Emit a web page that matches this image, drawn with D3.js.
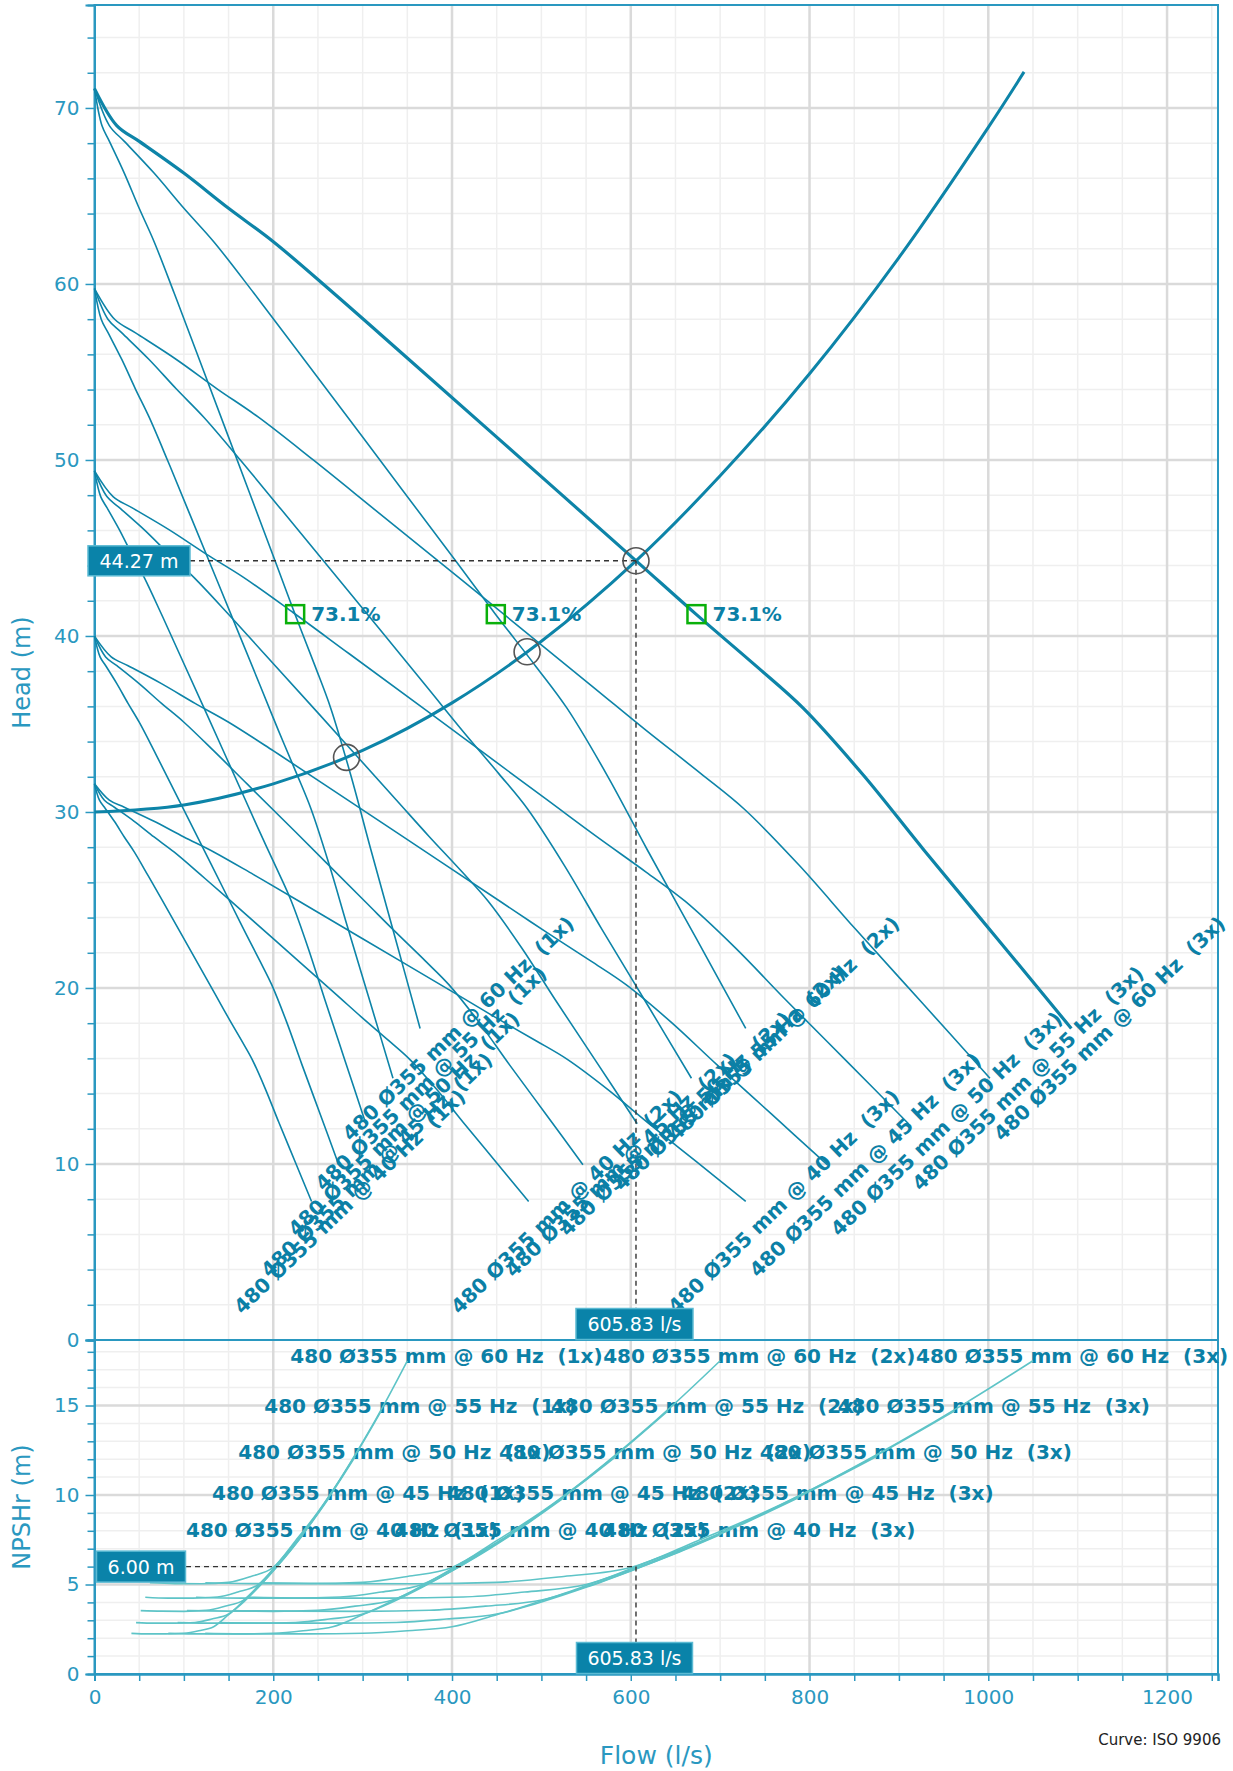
<!DOCTYPE html>
<html><head><meta charset="utf-8">
<script src="https://cdnjs.cloudflare.com/ajax/libs/d3/7.8.5/d3.min.js"></script>
<style>
html,body{margin:0;padding:0;background:#fff;}
svg{display:block;font-family:"DejaVu Sans",Verdana,sans-serif;}
</style></head>
<body><svg id="c" width="1233" height="1771"></svg>
<script>
// ---------- data ----------
const speedsHz = [60, 55, 50, 45, 40];
const pumpCounts = [1, 2, 3];
// single-pump head curves (flow l/s, head m)
const qHead60 = [0, 8.3, 16.7, 33.3, 50, 66.7, 89, 114, 150, 202, 224.3, 246.7, 264.3, 286.7, 309.3, 336.7, 364.3];
const hHead60 = [71.1, 69.0, 68.1, 66.3, 64.3, 62.4, 59.5, 56.15, 51.3, 44.27, 41.24, 38.3, 35.9, 32.1, 27.84, 22.8, 17.7];
const qHead55 = [0, 7.61, 15.31, 30.53, 45.83, 61.14, 81.58, 104.5, 137.5, 185.17, 205.61, 226.14, 242.28, 262.81, 283.53, 308.64, 333.94];
const hHead55 = [59.74, 57.98, 57.22, 55.71, 54.03, 52.43, 50.0, 47.18, 43.11, 37.2, 34.65, 32.18, 30.17, 26.97, 23.39, 19.16, 14.87];
const qHead50 = [0, 6.92, 13.92, 27.75, 41.67, 55.58, 74.17, 95.0, 125.0, 168.33, 186.92, 205.58, 220.25, 238.92, 257.75, 280.58, 303.58];
const hHead50 = [49.38, 47.92, 47.29, 46.04, 44.65, 43.33, 41.32, 38.99, 35.63, 30.74, 28.64, 26.6, 24.93, 22.29, 19.33, 15.83, 12.29];
const qHead45 = [0, 6.23, 12.53, 24.98, 37.5, 50.03, 66.75, 85.5, 112.5, 151.5, 168.23, 185.03, 198.23, 215.03, 231.98, 252.53, 273.23];
const hHead45 = [39.99, 38.81, 38.31, 37.29, 36.17, 35.1, 33.47, 31.58, 28.86, 24.9, 23.2, 21.54, 20.19, 18.06, 15.66, 12.83, 9.96];
const qHead40 = [0, 5.53, 11.13, 22.2, 33.33, 44.47, 59.33, 76.0, 100.0, 134.67, 149.53, 164.47, 176.2, 191.13, 206.2, 224.47, 242.87];
const hHead40 = [31.6, 30.67, 30.27, 29.47, 28.58, 27.73, 26.44, 24.96, 22.8, 19.68, 18.33, 17.02, 15.96, 14.27, 12.37, 10.13, 7.87];
// single-pump NPSHr curves
const qNpsh60 = [62, 90, 120, 150, 175, 200, 225, 250, 275, 300, 325, 350];
const nNpsh60 = [5.10, 5.05, 5.04, 5.12, 5.45, 5.95, 7.45, 9.05, 10.9, 12.95, 15.15, 17.5];
const qNpsh55 = [56.8, 82.5, 110.0, 137.5, 160.4, 183.3, 206.3, 229.2, 252.1, 275.0, 297.9, 320.8];
const nNpsh55 = [4.29, 4.24, 4.24, 4.30, 4.58, 5.00, 6.26, 7.60, 9.16, 10.88, 12.73, 14.70];
const qNpsh50 = [51.7, 75.0, 100.0, 125.0, 145.8, 166.7, 187.5, 208.3, 229.2, 250.0, 270.8, 291.7];
const nNpsh50 = [3.54, 3.51, 3.50, 3.56, 3.79, 4.13, 5.17, 6.29, 7.57, 8.99, 10.52, 12.15];
const qNpsh45 = [46.5, 67.5, 90.0, 112.5, 131.3, 150.0, 168.8, 187.5, 206.3, 225.0, 243.8, 262.5];
const nNpsh45 = [2.87, 2.84, 2.84, 2.88, 3.07, 3.35, 4.19, 5.09, 6.13, 7.28, 8.52, 9.84];
const qNpsh40 = [41.3, 60.0, 80.0, 100.0, 116.7, 133.3, 150.0, 166.7, 183.3, 200.0, 216.7, 233.3];
const nNpsh40 = [2.27, 2.24, 2.24, 2.28, 2.42, 2.64, 3.31, 4.02, 4.84, 5.76, 6.73, 7.78];
// system curve
const sysFlow = [0, 100, 200, 300, 400, 500, 605.83, 700, 800, 900, 1000, 1040];
const sysHead = [30, 30.4, 31.6, 33.5, 36.2, 39.7, 44.27, 49.1, 54.9, 61.5, 68.9, 72.05];
// operating points (system curve x 60 Hz 1x/2x/3x)
const opFlow = [282, 484, 605.83];
const opHead = [33.1, 39.1, 44.27];
// best efficiency points
const bepFlow = [224.5, 449, 673.5];
const bepHead = [41.24, 41.24, 41.24];
const bepText = ["73.1%", "73.1%", "73.1%"];
// duty point read-outs
const dutyFlow = 605.83, dutyHead = 44.27, dutyNpsh = 6.00;
const dutyFlowText = "605.83 l/s", dutyHeadText = "44.27 m", dutyNpshText = "6.00 m";
// axis ticks
const xTicks = [0, 200, 400, 600, 800, 1000, 1200];
const headTicks = [0, 10, 20, 30, 40, 50, 60, 70];
const npshTicks = [0, 5, 10, 15];

const headQ = [qHead60, qHead55, qHead50, qHead45, qHead40];
const headH = [hHead60, hHead55, hHead50, hHead45, hHead40];
const npshQ = [qNpsh60, qNpsh55, qNpsh50, qNpsh45, qNpsh40];
const npshN = [nNpsh60, nNpsh55, nNpsh50, nNpsh45, nNpsh40];

// ---------- layout ----------
const L = 94.5, R = 1218, TOP = 5, MID = 1340, BOT = 1674;
const x = d3.scaleLinear().domain([0, 1257]).range([L, R]);
const yH = d3.scaleLinear().domain([0, 75.85]).range([MID, TOP]);
const yN = d3.scaleLinear().domain([0, 18.66]).range([BOT, MID]);

const C_CURVE = "#0d84a8", C_LABEL = "#0b80a6", C_AXIS = "#2a98c0", C_NPSH = "#5ec4c7";
const svg = d3.select("#c");

// grids
const g = svg.append("g");
function vgrid(y0, y1) {
  g.selectAll(null).data(d3.range(50, 1257, 50).filter(v => v % 200 !== 0)).enter().append("line")
    .attr("x1", d => x(d)).attr("x2", d => x(d)).attr("y1", y0).attr("y2", y1)
    .attr("stroke", "#efefef").attr("stroke-width", 1.5);
}
vgrid(TOP, MID); vgrid(MID, BOT);
g.selectAll(null).data(d3.range(2, 75.85, 2).filter(v => v % 10 !== 0)).enter().append("line")
  .attr("x1", L).attr("x2", R).attr("y1", d => yH(d)).attr("y2", d => yH(d))
  .attr("stroke", "#efefef").attr("stroke-width", 1.5);
g.selectAll(null).data(d3.range(1, 18.66, 1).filter(v => v % 5 !== 0)).enter().append("line")
  .attr("x1", L).attr("x2", R).attr("y1", d => yN(d)).attr("y2", d => yN(d))
  .attr("stroke", "#efefef").attr("stroke-width", 1.5);
[[TOP, MID], [MID, BOT]].forEach(([a, b]) => {
  g.selectAll(null).data(xTicks.filter(d => d > 0)).enter().append("line")
    .attr("x1", d => x(d)).attr("x2", d => x(d)).attr("y1", a).attr("y2", b)
    .attr("stroke", "#dadada").attr("stroke-width", 2.5);
});
g.selectAll(null).data(headTicks.filter(d => d > 0)).enter().append("line")
  .attr("x1", L).attr("x2", R).attr("y1", d => yH(d)).attr("y2", d => yH(d))
  .attr("stroke", "#dadada").attr("stroke-width", 2.5);
g.selectAll(null).data(npshTicks.filter(d => d > 0)).enter().append("line")
  .attr("x1", L).attr("x2", R).attr("y1", d => yN(d)).attr("y2", d => yN(d))
  .attr("stroke", "#dadada").attr("stroke-width", 2.5);

// axes
function styleAxis(sel) {
  sel.selectAll("path").attr("stroke", C_AXIS).attr("stroke-width", 2);
  sel.selectAll("line").attr("stroke", C_AXIS).attr("stroke-width", 1.5);
  sel.selectAll("text").attr("fill", C_AXIS).attr("font-size", 20).attr("font-family", "DejaVu Sans, Verdana, sans-serif");
}
const axH = svg.append("g").attr("transform", `translate(${L},0)`)
  .call(d3.axisLeft(yH).tickValues(headTicks).tickSize(9).tickPadding(6).tickFormat(d3.format("d")));
svg.append("g").attr("transform", `translate(${L},0)`)
  .call(d3.axisLeft(yH).tickValues(d3.range(2, 75.85, 2).filter(v => v % 10 !== 0)).tickSize(7).tickFormat(""))
  .call(styleAxis);
styleAxis(axH);
const axN = svg.append("g").attr("transform", `translate(${L},0)`)
  .call(d3.axisLeft(yN).tickValues(npshTicks).tickSize(9).tickPadding(6).tickFormat(d3.format("d")));
svg.append("g").attr("transform", `translate(${L},0)`)
  .call(d3.axisLeft(yN).tickValues(d3.range(1, 18.66, 1).filter(v => v % 5 !== 0)).tickSize(7).tickFormat(""))
  .call(styleAxis);
styleAxis(axN);
const axX = svg.append("g").attr("transform", `translate(0,${BOT})`)
  .call(d3.axisBottom(x).tickValues(xTicks).tickSize(7).tickPadding(9).tickFormat(d3.format("d")));
svg.append("g").attr("transform", `translate(0,${BOT})`)
  .call(d3.axisBottom(x).tickValues(d3.range(50, 1257, 50).filter(v => v % 200 !== 0)).tickSize(7).tickFormat(""))
  .call(styleAxis);
styleAxis(axX);
// frames
svg.append("rect").attr("x", L).attr("y", TOP).attr("width", R - L).attr("height", BOT - TOP)
  .attr("fill", "none").attr("stroke", C_AXIS).attr("stroke-width", 2);
svg.append("line").attr("x1", L).attr("x2", R).attr("y1", MID).attr("y2", MID)
  .attr("stroke", C_AXIS).attr("stroke-width", 2);

// titles
svg.append("text").attr("transform", `translate(22,${(TOP + MID) / 2}) rotate(-90)`)
  .attr("text-anchor", "middle").attr("dominant-baseline", "central")
  .attr("font-size", 24).attr("fill", C_AXIS).text("Head (m)");
svg.append("text").attr("transform", `translate(22,${(MID + BOT) / 2}) rotate(-90)`)
  .attr("text-anchor", "middle").attr("dominant-baseline", "central")
  .attr("font-size", 24).attr("fill", C_AXIS).text("NPSHr (m)");
svg.append("text").attr("x", (L + R) / 2).attr("y", 1764).attr("text-anchor", "middle")
  .attr("font-size", 25).attr("fill", C_AXIS).text("Flow (l/s)");
svg.append("text").attr("x", 1221).attr("y", 1745).attr("text-anchor", "end")
  .attr("font-size", 15).attr("fill", "#222").text("Curve: ISO 9906");

// curves
const lineH = d3.line().x(d => x(d[0])).y(d => yH(d[1])).curve(d3.curveCatmullRom.alpha(0.5));
const lineN = d3.line().x(d => x(d[0])).y(d => yN(d[1])).curve(d3.curveMonotoneX);
const curves = [];
speedsHz.forEach((hz, i) => pumpCounts.forEach(n => {
  curves.push({
    hz, n,
    head: headQ[i].map((q, j) => [q * n, headH[i][j]]),
    npsh: npshQ[i].map((q, j) => [q * n, npshN[i][j]])
  });
}));
const labelText = c => `480 Ø355 mm @ ${c.hz} Hz  (${c.n}x)`;

// NPSH labels first (curves drawn over them)
const gN = svg.append("g");
curves.forEach(c => {
  const e = c.npsh[c.npsh.length - 1];
  gN.append("text").attr("x", x(e[0]) - 117).attr("y", yN(e[1]) - 5)
    .attr("dominant-baseline", "central").attr("font-size", 20).attr("font-weight", "bold")
    .attr("fill", C_LABEL).style("white-space", "pre").text(labelText(c));
});
curves.forEach(c => {
  gN.append("path").attr("d", lineN(c.npsh)).attr("fill", "none")
    .attr("stroke", C_NPSH).attr("stroke-width", 1.6);
});

// system curve
const sys = sysFlow.map((q, i) => [q, sysHead[i]]);
svg.append("path").attr("d", d3.line().x(d => x(d[0])).y(d => yH(d[1])).curve(d3.curveCatmullRom)(sys))
  .attr("fill", "none").attr("stroke", C_CURVE).attr("stroke-width", 3);
// head curves
curves.forEach(c => {
  const main = c.hz === 60 && c.n === 3;
  svg.append("path").attr("d", lineH(c.head)).attr("fill", "none")
    .attr("stroke", C_CURVE).attr("stroke-width", main ? 3.2 : 1.6);
});

// dashed read-out lines
const dash = svg.append("g").attr("stroke", "#333").attr("stroke-width", 1.4).attr("stroke-dasharray", "5,4");
dash.append("line").attr("x1", 190).attr("x2", x(dutyFlow)).attr("y1", yH(dutyHead)).attr("y2", yH(dutyHead));
dash.append("line").attr("x1", x(dutyFlow)).attr("x2", x(dutyFlow)).attr("y1", yH(dutyHead)).attr("y2", MID - 31);
dash.append("line").attr("x1", 186).attr("x2", x(dutyFlow)).attr("y1", yN(dutyNpsh)).attr("y2", yN(dutyNpsh));
dash.append("line").attr("x1", x(dutyFlow)).attr("x2", x(dutyFlow)).attr("y1", yN(dutyNpsh)).attr("y2", BOT - 32);

// operating point circles
svg.selectAll(null).data(opFlow).enter().append("circle")
  .attr("cx", d => x(d)).attr("cy", (d, i) => yH(opHead[i])).attr("r", 13)
  .attr("fill", "none").attr("stroke", "#555").attr("stroke-width", 1.6);

// BEP markers
bepFlow.forEach((q, i) => {
  svg.append("rect").attr("x", x(q) - 9).attr("y", yH(bepHead[i]) - 9).attr("width", 18).attr("height", 18)
    .attr("fill", "none").attr("stroke", "#0ab00a").attr("stroke-width", 2.5);
  svg.append("text").attr("x", x(q) + 16).attr("y", yH(bepHead[i])).attr("dominant-baseline", "central")
    .attr("font-size", 20).attr("font-weight", "bold").attr("fill", C_LABEL).text(bepText[i]);
});

// rotated head labels
curves.forEach(c => {
  const e = c.head[c.head.length - 1];
  svg.append("text").attr("transform", `translate(${x(e[0]) + 38},${yH(e[1])}) rotate(-44)`)
    .attr("text-anchor", "middle").attr("dominant-baseline", "central")
    .attr("font-size", 20).attr("font-weight", "bold").attr("fill", C_LABEL)
    .style("white-space", "pre").text(labelText(c));
});

// value boxes
function box(cx, cy, w, h, txt) {
  svg.append("rect").attr("x", cx - w / 2).attr("y", cy - h / 2).attr("width", w).attr("height", h)
    .attr("fill", "#0a83a9").attr("stroke", "#5bbad3").attr("stroke-width", 1.5);
  svg.append("text").attr("x", cx).attr("y", cy).attr("text-anchor", "middle").attr("dominant-baseline", "central")
    .attr("font-size", 19).attr("fill", "#fff").text(txt);
}
box(139, yH(dutyHead), 102, 30, dutyHeadText);
box(x(dutyFlow) - 1.5, MID - 16, 117, 31, dutyFlowText);
box(141, yN(dutyNpsh), 89, 31, dutyNpshText);
box(x(dutyFlow) - 1.5, BOT - 16, 116, 31, dutyFlowText);
</script></body></html>
